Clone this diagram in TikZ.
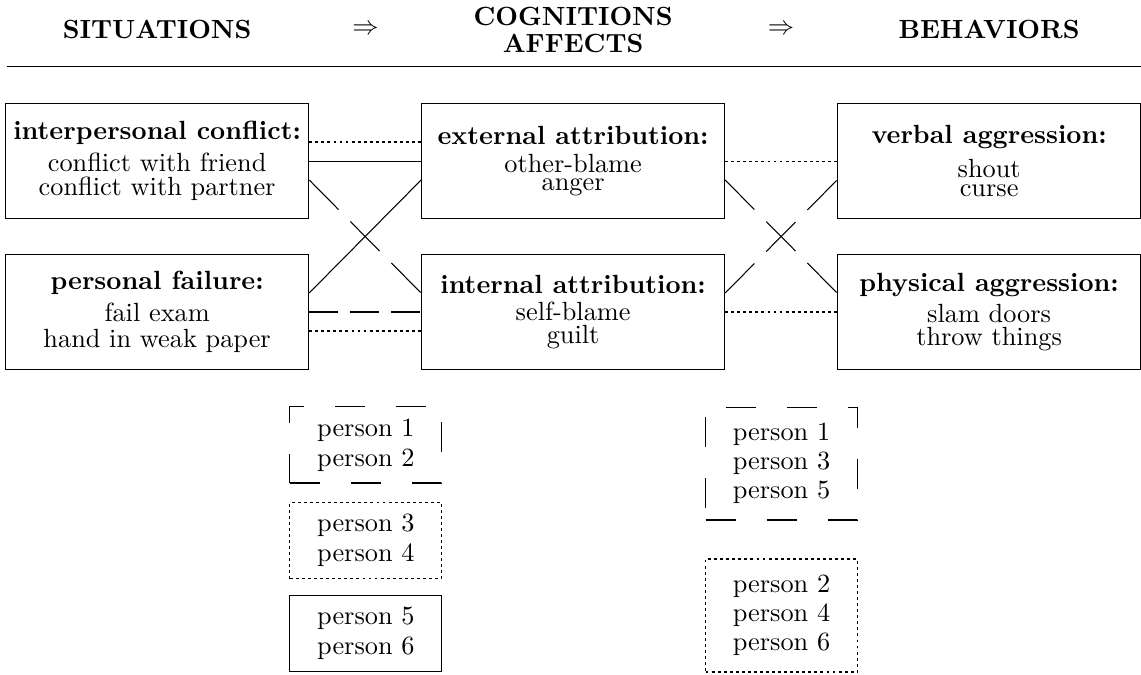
\documentclass[tikz,border=0pt]{standalone}
\usepackage{amsmath}
\usepackage{amssymb}
\usepackage{tikz}

\tikzset{
	catbox/.style={draw, align=center, minimum width=4.05cm, minimum height=1.53cm, inner sep=3pt},
	pbox/.style={draw, align=center, minimum width=2.03cm, inner sep=3pt},
	grpdash/.style={dash pattern=on 11pt off 4.6pt},
	grpdashdiag/.style={dash pattern=on 15.8pt off 6.4pt},
	grpdot/.style={dash pattern=on 1.1pt off 1.2pt},
	boxdash/.style={dash pattern=on 11.4pt off 11.8pt}
}

\begin{document}
\begin{tikzpicture}
	\useasboundingbox (0,0) rectangle (15.25,-9.02);

	\node (hsit) at (2.1,-0.4) {\textbf{SITUATIONS}};
	\node (harrA) at (4.885,-0.4) {$\Rightarrow$};
	\node (hcog) at (7.66,-0.4) [align=center] {\textbf{COGNITIONS}\\[-1.6pt]\textbf{AFFECTS}};
	\node (harrB) at (10.44,-0.4) {$\Rightarrow$};
	\node (hbeh) at (13.22,-0.4) {\textbf{BEHAVIORS}};
	\coordinate (ruleL) at (0.09,-0.89);
	\coordinate (ruleR) at (15.25,-0.89);
	\draw (ruleL) -- (ruleR);

	\node (conf) at (2.1,-2.152) [catbox] {\textbf{interpersonal conflict:}\\ conflict with friend\\[-2.8pt] conflict with partner};
	\node (fail) at (2.1,-4.17) [catbox] {\textbf{personal failure:}\\ fail exam\\[-2pt] hand in weak paper};
	\node (ext) at (7.66,-2.152) [catbox] {\textbf{external attribution:}\\[-1.2pt] other-blame\\[-5pt] anger};
	\node (int) at (7.66,-4.17) [catbox] {\textbf{internal attribution:}\\[-1.6pt] self-blame\\[-3.2pt] guilt};
	\node (verb) at (13.22,-2.152) [catbox] {\textbf{verbal aggression:}\\[1pt] shout\\[-5pt] curse};
	\node (phys) at (13.22,-4.17) [catbox] {\textbf{physical aggression:}\\ slam doors\\[-3.2pt] throw things};

	\draw[grpdot] ([yshift=0.254cm]conf.east) -- ([yshift=0.254cm]ext.west);
	\draw (conf.east) -- (ext.west);
	\draw[grpdashdiag] ([yshift=-0.254cm]conf.east) -- ([yshift=0.254cm]int.west);
	\draw ([yshift=0.254cm]fail.east) -- ([yshift=-0.254cm]ext.west);
	\draw[grpdash] (fail.east) -- (int.west);
	\draw[grpdot] ([yshift=-0.254cm]fail.east) -- ([yshift=-0.254cm]int.west);

	\draw[grpdot] (ext.east) -- (verb.west);
	\draw[grpdashdiag] ([yshift=-0.254cm]ext.east) -- ([yshift=0.254cm]phys.west);
	\draw[grpdashdiag] ([yshift=0.254cm]int.east) -- ([yshift=-0.254cm]verb.west);
	\draw[grpdot] (int.east) -- (phys.west);

	\node (pAB) at (4.89,-5.947) [pbox, boxdash, minimum height=1.016cm] {person 1\\[-0.6pt] person 2};
	\node (pCD) at (4.89,-7.224) [pbox, grpdot, minimum height=1.016cm] {person 3\\[-0.6pt] person 4};
	\node (pEF) at (4.89,-8.467) [pbox, minimum height=1.016cm] {person 5\\[-0.6pt] person 6};
	\node (pACE) at (10.445,-6.195) [pbox, boxdash, minimum height=1.51cm] {person 1\\[-1pt] person 3\\[-1pt] person 5};
	\node (pBDF) at (10.445,-8.226) [pbox, grpdot, minimum height=1.51cm] {person 2\\[-1pt] person 4\\[-1pt] person 6};
\end{tikzpicture}
\end{document}
